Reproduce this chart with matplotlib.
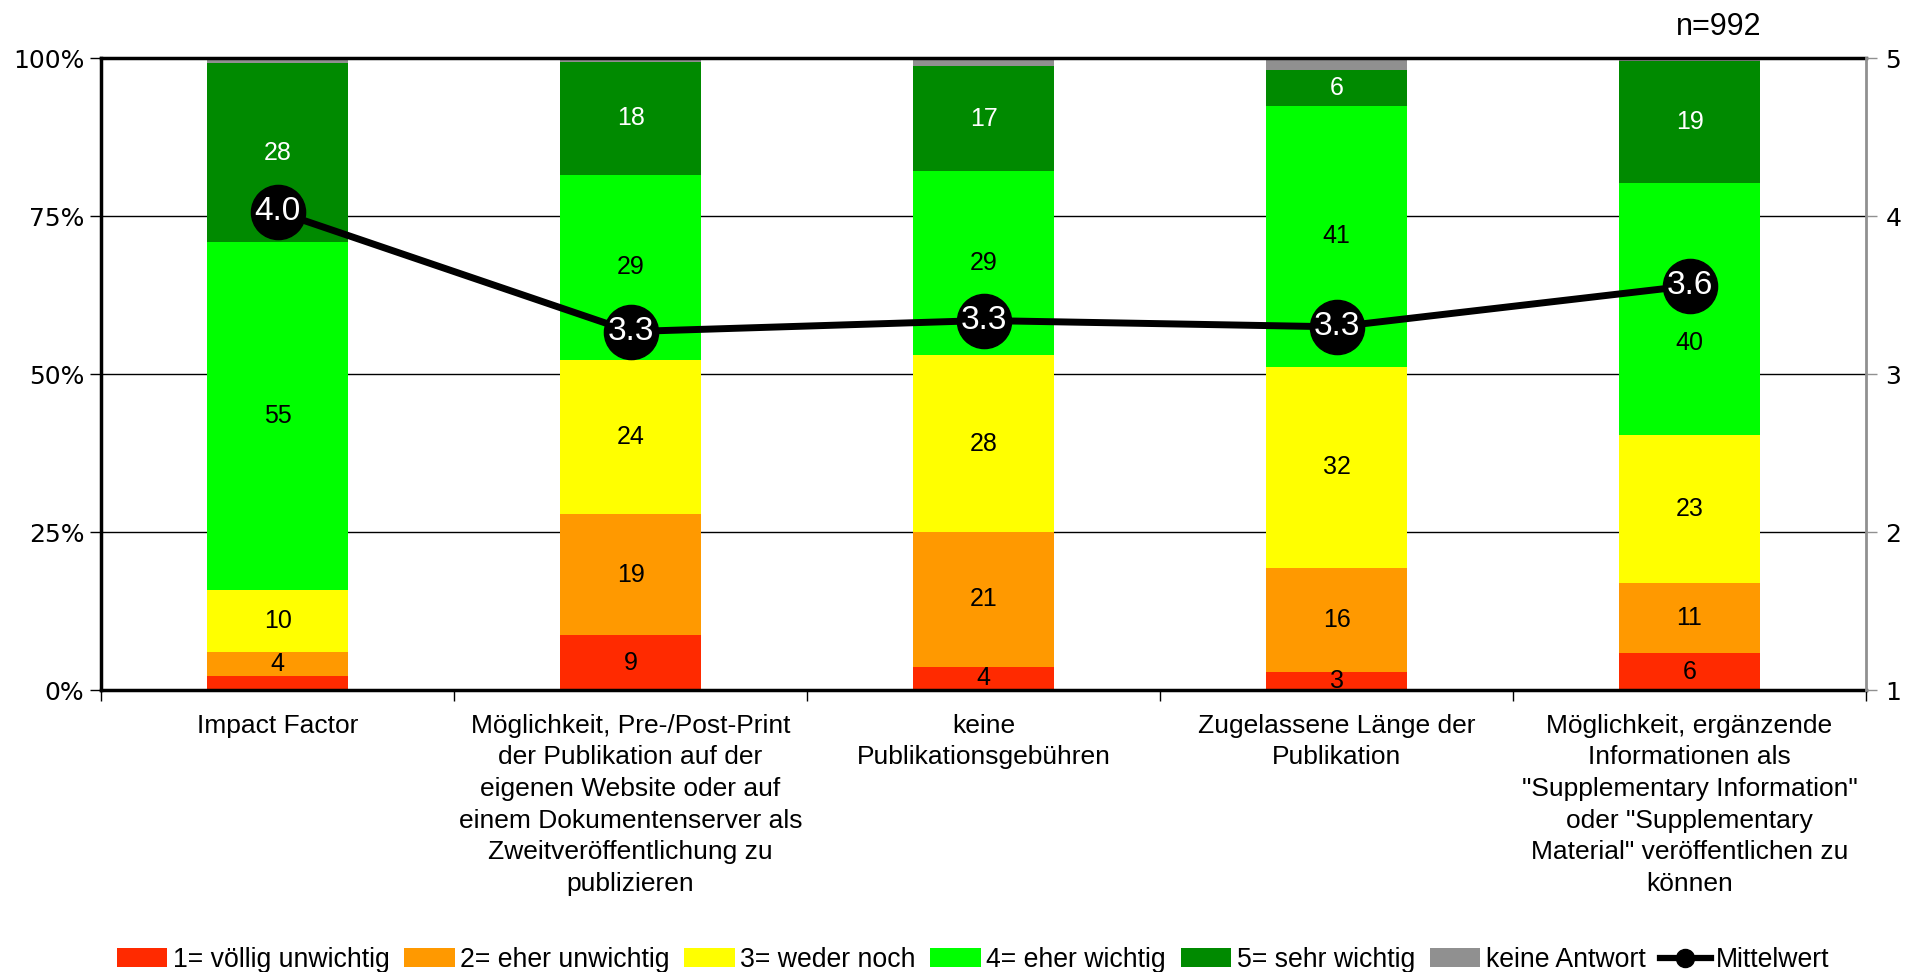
import numpy as np
import matplotlib
matplotlib.use("Agg")
import matplotlib.pyplot as plt
from matplotlib.ticker import FixedLocator, NullFormatter

plt.rcParams['font.family'] = ['Liberation Sans', 'DejaVu Sans']

categories = ["Impact Factor",
              "Möglichkeit, Pre-/Post-Print\nder Publikation auf der\neigenen Website oder auf\neinem Dokumentenserver als\nZweitveröffentlichung zu\npublizieren",
              "keine\nPublikationsgebühren",
              "Zugelassene Länge der\nPublikation",
              "Möglichkeit, ergänzende\nInformationen als\n\"Supplementary Information\"\noder \"Supplementary\nMaterial\" veröffentlichen zu\nkönnen"]

series_names = ["1= völlig unwichtig", "2= eher unwichtig", "3= weder noch",
                "4= eher wichtig", "5= sehr wichtig", "keine Antwort"]
v1 = [2.3, 8.7, 3.7, 2.9, 5.8]
v2 = [3.7, 19.2, 21.3, 16.4, 11.2]
v3 = [9.8, 24.3, 28.0, 31.9, 23.4]
v4 = [55.1, 29.4, 29.1, 41.3, 39.8]
v5 = [28.3, 17.8, 16.7, 5.6, 19.4]
v_na = [0.8, 0.6, 1.2, 1.9, 0.4]
mittelwert = [4.03, 3.27, 3.34, 3.30, 3.56]
n_text = "n=992"

colors = ["#FF2A00", "#FF9900", "#FFFF00", "#00FF00", "#008A00", "#909090"]
label_colors = ["black", "black", "black", "black", "white", None]

fig = plt.figure(figsize=(19.08, 9.72), dpi=100)
ax = fig.add_axes([0.053, 0.290, 0.925, 0.650])

x = np.arange(len(categories)) + 0.5
# mean position expressed on the percent axis, to keep labels clear of markers
mean_pct = (np.array(mittelwert) - 1) / 4 * 100
bottom = np.zeros(len(categories))
handles = []
for vals, name, col, lc in zip([v1, v2, v3, v4, v5, v_na], series_names, colors, label_colors):
    vals = np.array(vals)
    bars = ax.bar(x, vals, 0.4, bottom=bottom, color=col, label=name, zorder=2)
    handles.append(bars)
    if lc is not None:
        for i, (xi, b, v) in enumerate(zip(x, bottom, vals)):
            if v >= 2.5:
                yl = b + v / 2
                if abs(yl - mean_pct[i]) < 6:
                    yl = mean_pct[i] - 9
                ax.text(xi, yl, "%d" % round(v), ha='center', va='center',
                        fontsize=18, color=lc, zorder=3)
    bottom += vals

ax.set_xlim(0, 5)
ax.set_ylim(0, 100)
for yv in [25, 50, 75]:
    ax.axhline(yv, color='black', lw=1, zorder=0)
ax.set_yticks([0, 25, 50, 75, 100])
ax.set_yticklabels(["0%", "25%", "50%", "75%", "100%"], family='DejaVu Sans', fontsize=18)
ax.tick_params(axis='y', length=8, width=1, pad=4, colors='black')
ax.xaxis.set_major_locator(FixedLocator([0, 1, 2, 3, 4, 5]))
ax.xaxis.set_major_formatter(NullFormatter())
ax.xaxis.set_minor_locator(FixedLocator(list(x)))
ax.set_xticklabels(categories, minor=True, fontsize=19, linespacing=1.4)
ax.tick_params(axis='x', which='major', length=8, width=1)
ax.tick_params(axis='x', which='minor', length=0, pad=17)
for s in ['left', 'bottom', 'top']:
    ax.spines[s].set_linewidth(2.5)
ax.spines['right'].set_visible(False)

ax2 = ax.twinx()
ax2.set_ylim(1, 5)
ax2.set_yticks([1, 2, 3, 4, 5])
ax2.set_yticklabels(["1", "2", "3", "4", "5"], family='DejaVu Sans', fontsize=18)
ax2.tick_params(axis='y', length=8, width=1, color='#909090', pad=6)
ax2.spines['right'].set_color('#909090')
ax2.spines['right'].set_linewidth(2)
for s in ['left', 'bottom', 'top']:
    ax2.spines[s].set_visible(False)
line, = ax2.plot(x, mittelwert, color='black', lw=5, marker='o', markersize=39,
                 label="Mittelwert", zorder=4)
for xi, m in zip(x, mittelwert):
    ax2.text(xi, m, "%.1f" % m, ha='center', va='center', color='white',
             fontsize=24, zorder=5)

leg_line = plt.Line2D([], [], color='black', lw=4.5, marker='o', markersize=13)
fig.legend(handles + [leg_line], series_names + ["Mittelwert"], loc='lower center',
           bbox_to_anchor=(0.51, -0.012), ncol=7, frameon=False, fontsize=19.2,
           handlelength=1.9, handletextpad=0.2, columnspacing=0.55, borderaxespad=0)

fig.text(0.901, 0.972, n_text, ha='center', va='center', fontsize=22)

fig.savefig("out.png", dpi=100)
